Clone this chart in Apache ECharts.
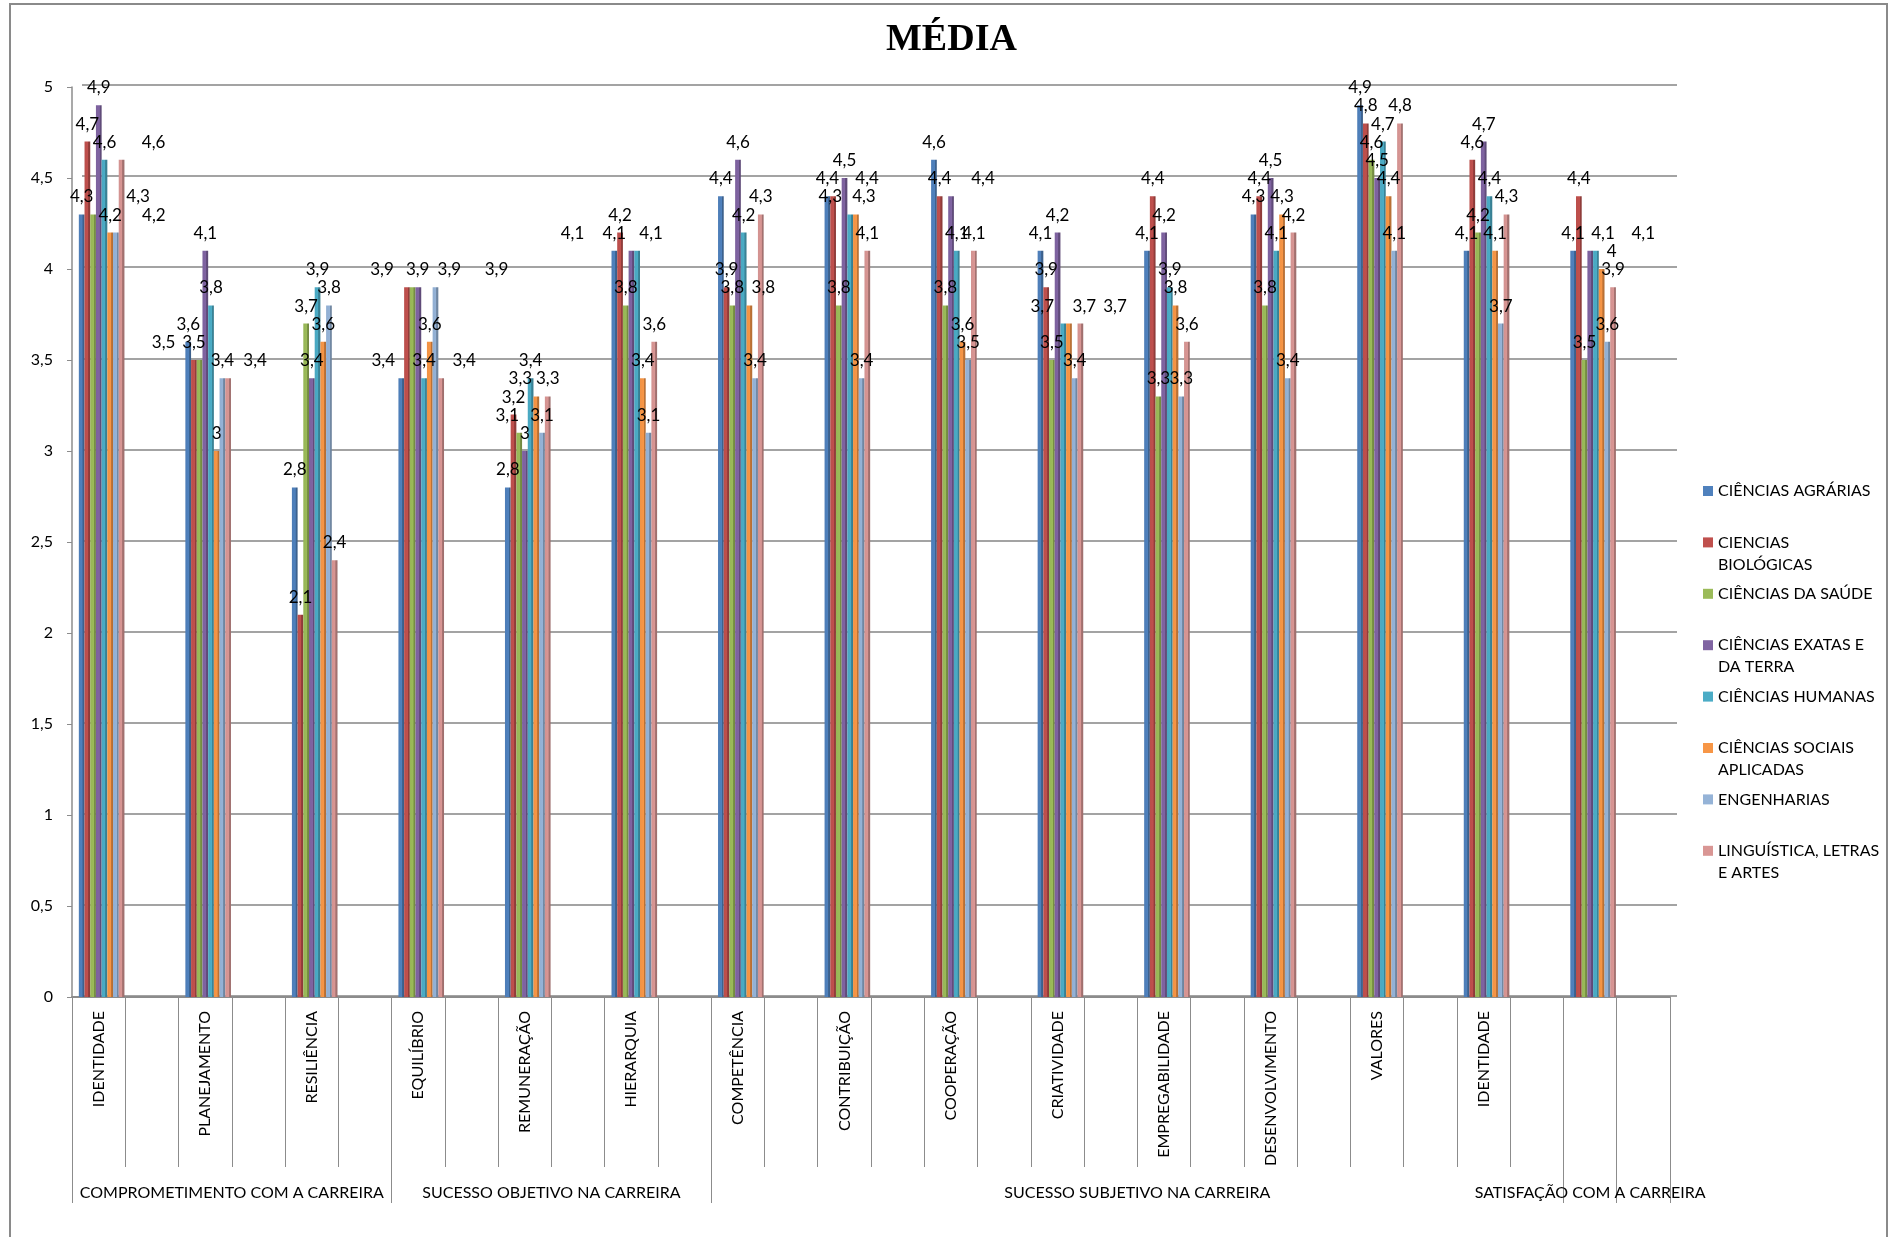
<!DOCTYPE html>
<html>
<head>
<meta charset="utf-8">
<script src="https://cdn.jsdelivr.net/npm/echarts@6/dist/echarts.min.js"></script>
<style>
  html, body { margin: 0; padding: 0; background: #ffffff; }
  #chart { width: 1894px; height: 1237px; }
</style>
</head>
<body>
<div id="chart"></div>
<script>
// Dimensions measured (one bar cluster each; the last cluster has no own name)
const measures = ['IDENTIDADE', 'PLANEJAMENTO', 'RESILIÊNCIA', 'EQUILÍBRIO', 'REMUNERAÇÃO', 'HIERARQUIA',
  'COMPETÊNCIA', 'CONTRIBUIÇÃO', 'COOPERAÇÃO', 'CRIATIVIDADE', 'EMPREGABILIDADE', 'DESENVOLVIMENTO',
  'VALORES', 'IDENTIDADE', ''];

// Second-level axis groups and how many axis slots each one spans
const groupNames = ['COMPROMETIMENTO COM A CARREIRA', 'SUCESSO OBJETIVO NA CARREIRA',
  'SUCESSO SUBJETIVO NA CARREIRA', 'SATISFAÇÃO COM A CARREIRA', ''];
const groupSlots = [6, 6, 16, 1, 1];

const seriesNames = ['CIÊNCIAS AGRÁRIAS', 'CIENCIAS BIOLÓGICAS', 'CIÊNCIAS DA SAÚDE',
  'CIÊNCIAS EXATAS E DA TERRA', 'CIÊNCIAS HUMANAS', 'CIÊNCIAS SOCIAIS APLICADAS',
  'ENGENHARIAS', 'LINGUÍSTICA, LETRAS E ARTES'];

// Mean scores per area of knowledge
const agrarias     = [4.3, 3.6, 2.8, 3.4, 2.8, 4.1, 4.4, 4.4, 4.6, 4.1, 4.1, 4.3, 4.9, 4.1, 4.1];
const biologicas   = [4.7, 3.5, 2.1, 3.9, 3.2, 4.2, 3.9, 4.4, 4.4, 3.9, 4.4, 4.4, 4.8, 4.6, 4.4];
const saude        = [4.3, 3.5, 3.7, 3.9, 3.1, 3.8, 3.8, 3.8, 3.8, 3.5, 3.3, 3.8, 4.6, 4.2, 3.5];
const exatas       = [4.9, 4.1, 3.4, 3.9, 3.0, 4.1, 4.6, 4.5, 4.4, 4.2, 4.2, 4.5, 4.5, 4.7, 4.1];
const humanas      = [4.6, 3.8, 3.9, 3.4, 3.4, 4.1, 4.2, 4.3, 4.1, 3.7, 3.9, 4.1, 4.7, 4.4, 4.1];
const sociais      = [4.2, 3.0, 3.6, 3.6, 3.3, 3.4, 3.8, 4.3, 3.6, 3.7, 3.8, 4.3, 4.4, 4.1, 4.0];
const engenharias  = [4.2, 3.4, 3.8, 3.9, 3.1, 3.1, 3.4, 3.4, 3.5, 3.4, 3.3, 3.4, 4.1, 3.7, 3.6];
const linguistica  = [4.6, 3.4, 2.4, 3.4, 3.3, 3.6, 4.3, 4.1, 4.1, 3.7, 3.6, 4.2, 4.8, 4.3, 3.9];

const yTicks = [0, 0.5, 1, 1.5, 2, 2.5, 3, 3.5, 4, 4.5, 5];

// ---- presentation settings ----
const palette = ['#4F81BD', '#C0504D', '#9BBB59', '#8064A2', '#4BACC6', '#F79646', '#95B3D7', '#D99694'];
const legendText = {
  'CIENCIAS BIOLÓGICAS': '\nCIENCIAS\nBIOLÓGICAS',
  'CIÊNCIAS EXATAS E DA TERRA': '\nCIÊNCIAS EXATAS E\nDA TERRA',
  'CIÊNCIAS SOCIAIS APLICADAS': '\nCIÊNCIAS SOCIAIS\nAPLICADAS',
  'LINGUÍSTICA, LETRAS E ARTES': '\nLINGUÍSTICA, LETRAS\nE ARTES'
};
// value labels that sit sideways of their bar: [series, cluster, dx in px]
const labelShifts = [
  [2, 0, 45], [6, 0, 38], [7, 0, 32],
  [2, 1, -36], [7, 1, 27],
  [0, 3, -18], [1, 3, -25], [2, 3, 5], [3, 3, 31], [6, 3, 61], [7, 3, 23],
  [2, 4, -12], [5, 4, -16],
  [3, 5, -59], [4, 5, 14],
  [5, 6, 14],
  [1, 7, 34], [4, 7, -20], [5, 7, 8],
  [3, 8, 32],
  [4, 9, -21], [5, 9, 46], [7, 9, 4],
  [3, 14, 53], [4, 14, 7], [5, 14, 10]
];

const FONT = 'Lato';
const AXIS_GREY = '#8c8c8c';
const GRID = { left: 72, right: 224, top: 87, bottom: 240 };

const allValues = [agrarias, biologicas, saude, exatas, humanas, sociais, engenharias, linguistica];

// each cluster is followed by an empty slot on the category axis
const slotNames = [];
measures.forEach(m => { slotNames.push(m); slotNames.push(''); });
const slotCount = slotNames.length;

function shade(hex, f) {
  const n = parseInt(hex.slice(1), 16);
  const r = Math.round(((n >> 16) & 255) * f);
  const g = Math.round(((n >> 8) & 255) * f);
  const b = Math.round((n & 255) * f);
  return 'rgb(' + r + ',' + g + ',' + b + ')';
}
const fmt = v => String(v).replace('.', ',');

const shiftOf = {};
labelShifts.forEach(([s, c, dx]) => { shiftOf[s + '_' + c] = dx; });

const series = allValues.map((vals, si) => {
  const data = [];
  vals.forEach((v, ci) => {
    const item = { value: v };
    const dx = shiftOf[si + '_' + ci];
    if (dx) item.label = { offset: [dx, 0] };
    data.push(item);
    data.push('-');
  });
  const c = palette[si];
  return {
    name: seriesNames[si],
    type: 'bar',
    xAxisIndex: 2,
    yAxisIndex: 1,
    barWidth: 5.7,
    barGap: '0%',
    data: data,
    itemStyle: {
      color: new echarts.graphic.LinearGradient(0, 0, 1, 0, [
        { offset: 0, color: shade(c, 0.97) },
        { offset: 0.62, color: c },
        { offset: 0.66, color: shade(c, 0.78) },
        { offset: 1, color: shade(c, 0.72) }
      ])
    },
    label: {
      show: true,
      position: 'top',
      distance: 9,
      formatter: p => fmt(p.value),
      fontFamily: FONT,
      fontSize: 17,
      color: '#000'
    },
    emphasis: { disabled: true },
    animation: false
  };
});

// group boundaries and label centres, in slot units
const groupBounds = [0];
groupSlots.forEach(n => groupBounds.push(groupBounds[groupBounds.length - 1] + n));
const groupCentres = [];
const centreName = {};
groupNames.forEach((g, i) => {
  if (!g) return;
  const c = (groupBounds[i] + groupBounds[i + 1]) / 2;
  groupCentres.push(c);
  centreName[c] = g;
});

const chart = echarts.init(document.getElementById('chart'), null, { renderer: 'canvas' });
chart.setOption({
  backgroundColor: '#ffffff',
  animation: false,
  title: {
    text: 'MÉDIA',
    left: 881,
    top: 16,
    textStyle: { fontFamily: 'Liberation Serif', fontWeight: 'bold', fontSize: 38, color: '#000' }
  },
  legend: {
    orient: 'vertical',
    left: 1698,
    top: 475,
    itemWidth: 10,
    itemHeight: 10,
    itemGap: 7.4,
    icon: 'rect',
    selectedMode: false,
    data: seriesNames.map((n, i) => ({ name: n, itemStyle: { color: palette[i] } })),
    formatter: n => legendText[n] || n,
    textStyle: { fontFamily: FONT, fontSize: 16, lineHeight: 22, color: '#000' }
  },
  graphic: [{
    type: 'rect',
    shape: { x: 10, y: 4, width: 1877, height: 1260 },
    style: { fill: 'none', stroke: '#8a8a8a', lineWidth: 2 },
    silent: true
  }],
  grid: [
    { left: GRID.left, right: GRID.right, top: GRID.top, bottom: GRID.bottom },
    { left: GRID.left + 3, right: GRID.right - 3, top: GRID.top, bottom: GRID.bottom },
    { left: GRID.left + 10, right: GRID.right - 7, top: GRID.top - 2, bottom: GRID.bottom + 1 }
  ],
  xAxis: [
    {
      type: 'category',
      gridIndex: 0,
      position: 'bottom',
      data: slotNames,
      boundaryGap: true,
      axisLine: { show: true, lineStyle: { color: AXIS_GREY, width: 2 } },
      axisTick: { show: true, interval: 0, length: 170, lineStyle: { color: AXIS_GREY, width: 1 } },
      axisLabel: { interval: 0, rotate: 90, margin: 14, fontFamily: FONT, fontSize: 16, color: '#000' },
      splitLine: { show: false }
    },
    {
      type: 'value',
      gridIndex: 0,
      position: 'bottom',
      offset: 170,
      min: 0,
      max: slotCount,
      axisLine: { show: false },
      axisTick: { show: true, customValues: groupBounds, length: 36, lineStyle: { color: AXIS_GREY, width: 1 } },
      axisLabel: {
        show: true,
        customValues: groupCentres,
        formatter: v => centreName[v] || '',
        margin: 18,
        fontFamily: FONT,
        fontSize: 16,
        color: '#000'
      },
      splitLine: { show: false }
    },
    {
      type: 'category',
      gridIndex: 1,
      data: slotNames,
      show: false
    },
    {
      type: 'value',
      gridIndex: 2,
      min: 0,
      max: slotCount,
      show: false,
      splitLine: { show: false }
    }
  ],
  yAxis: [
    {
      type: 'value',
      gridIndex: 0,
      min: yTicks[0],
      max: yTicks[yTicks.length - 1],
      interval: 0.5,
      axisLine: { show: true, lineStyle: { color: AXIS_GREY, width: 1.5 } },
      axisTick: { show: true, length: 5, lineStyle: { color: AXIS_GREY } },
      axisLabel: { margin: 19, formatter: v => fmt(v), fontFamily: FONT, fontSize: 16, color: '#000' },
      splitLine: { show: false }
    },
    {
      type: 'value',
      gridIndex: 1,
      min: yTicks[0],
      max: yTicks[yTicks.length - 1],
      interval: 0.5,
      show: false,
      splitLine: { show: false }
    },
    {
      type: 'value',
      gridIndex: 2,
      min: yTicks[0],
      max: yTicks[yTicks.length - 1],
      interval: 0.5,
      axisLine: { show: false },
      axisTick: { show: false },
      axisLabel: { show: false },
      splitLine: { show: true, lineStyle: { color: '#a3a3a3', width: 2 } }
    }
  ],
  series: series
});
</script>
</body>
</html>
